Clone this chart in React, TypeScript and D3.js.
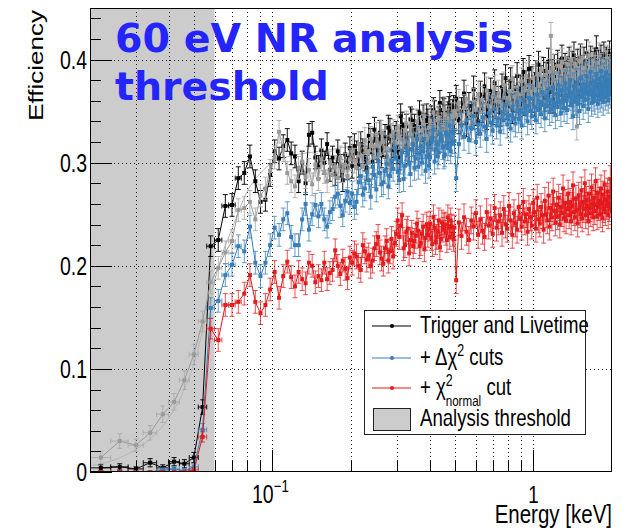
import React from 'react';
import * as d3 from 'd3';

// ---------- binning (keV) ----------
const binWidthKeV = 0.004;
const segA = { start: 0.022, step: 0.004 }; // every bin, 0.022 - 0.198
const segB = { start: 0.202, step: 0.004 }; // every bin, 0.202 - 0.498
const segC = { start: 0.506, step: 0.012 }; // every 3rd bin, 0.506 - 1.994

// ---------- efficiencies (x 1/1000) ----------
const blackA = [4,5,3,9,4,10,8,14,63,219, 225,258,259,285,290,306,282,262,264,288, 311,304,316,322,309,306,282,300,280,327, 329,305,296,312,300,318,293,305,289,311, 297,283,308,295,314];
const blackB = [297,316,309,298,318,311,304,295,326,321, 301,332,315,312,329,307,318,325,306,334, 331,312,317,324,328,311,305,345,337,323, 326,335,318,313,342,340,330,335,321,325, 339,348,327,322,344,336,331,345,340,319, 326,343,337,351,348,333,329,338,342,358, 336,332,351,350,344,329,338,347,352,356, 333,341,349,353,343];
const blackC = [362,341,350,367,338,355,346,371,349,340, 366,352,374,345,358,369,350,377,356,361, 348,373,360,382,355,366,379,351,370,362, 384,357,372,365,388,359,376,368,391,362, 380,371,358,386,374,395,366,381,370,389, 363,384,376,398,369,380,387,361,392,375, 383,396,370,388,377,401,366,385,393,374, 390,379,399,368,387,395,381,404,372,389, 378,397,385,370,402,383,391,376,399,387, 381,406,374,393,386,378,400,389,371,395, 384,398,377,410,388,380,396,373,392,401, 383,394,375,404,389,379,399,386,372,397, 388,405,381,394,385];

const grayA = [14,30,26,38,56,68,89,114,146,184, 198,213,224,254,256,262,245,268,275,292, 305,330,312,290,282,277,295,301,286,293, 279,298,284,303,291,282,300,288,296,285, 305,292,298,287,303];
const grayB = [311,302,295,318,306,296,322,310,300,323, 316,305,327,317,308,329,320,311,314,303, 298,326,330,315,319,334,325,309,312,321, 331,338,309,318,336,327,322,312,317,340, 333,324,315,331,338,345,326,320,312,334, 341,327,323,349,335,330,318,341,344,322, 330,336,326,352,347,333,335,340,343,328, 331,346,338,339,350];
const grayC = [345,358,339,353,362,347,336,359,351,366, 349,361,343,370,355,348,364,372,352,367, 359,345,375,363,351,369,358,381,364,356, 373,366,352,379,361,370,384,358,375,369, 363,382,371,357,386,374,365,390,372,379, 368,385,376,361,388,423,373,392,380,366, 387,375,394,369,381,398,377,363,390,384, 372,395,386,378,400,367,389,382,396,374, 335,391,380,398,373,387,402,379,392,369, 388,396,375,384,404,381,370,393,386,399, 377,391,384,368,397,388,380,403,374,393, 386,378,399,383,371,395,389,376,401,385, 379,392,384,398,387];

const blueA = [0,0,0,0,2,3,1,5,41,159, 166,191,201,219,214,238,203,190,203,220, 237,230,245,251,228,220,220,245,260,235, 250,259,248,260,245,238,252,255,267,270, 258,249,263,272,261];
const blueB = [270,257,262,281,287,269,275,291,283,267, 296,288,274,302,290,279,281,292,299,277, 287,302,294,314,305,291,283,301,310,284, 297,314,309,300,289,313,318,295,304,323, 296,309,316,300,311,323,292,306,318,297, 305,320,324,332,301,313,319,306,310,328, 325,322,315,306,308,329,327,314,319,336, 311,318,330,329,321];
const blueC = [285,318,336,325,341,322,333,345,320,337, 328,344,335,323,348,339,331,352,336,343, 330,349,341,356,337,346,333,354,343,338, 359,342,351,336,361,348,355,340,363,350, 345,362,354,341,366,351,359,347,368,356, 343,365,355,371,349,361,352,373,358,346, 367,354,375,359,348,370,362,353,377,360, 351,372,364,380,356,368,345,374,363,359, 378,357,369,350,382,364,372,355,376,367, 361,384,369,352,375,366,388,358,371,363, 379,360,374,386,365,357,381,370,362,389, 366,376,359,383,371,364,387,368,377,361, 380,369,385,366,375];

const redA = [0,0,0,0,0,0,0,2,34,139, 128,162,162,165,173,191,165,154,162,177, 194,169,190,204,189,180,194,187,183,203, 200,184,190,186,203,187,193,196,215,200, 192,205,197,188,208];
const redB = [203,212,209,200,196,220,214,206,210,200, 205,217,221,228,213,207,202,217,224,205, 214,226,209,222,231,244,228,239,249,217, 220,233,236,212,225,232,219,224,229,241, 234,219,222,231,238,216,227,240,230,236, 241,227,221,247,237,223,228,233,244,218, 226,242,235,239,240,232,225,247,238,228, 244,238,231,226,237];
const redC = [186,242,229,247,233,225,244,238,251,230, 245,234,228,252,239,246,231,256,237,243, 249,232,255,240,236,258,244,230,251,241, 235,257,246,238,262,243,250,233,255,247, 239,261,252,236,266,245,241,257,249,235, 263,250,244,268,238,256,247,272,253,242, 259,248,266,240,257,251,275,246,261,244, 255,270,249,262,243,258,278,252,247,265, 254,241,268,257,250,273,246,262,255,280, 249,264,258,243,270,256,251,276,260,247, 266,253,282,259,248,271,257,263,250,275, 261,246,269,255,279,252,264,258,272,249, 267,256,284,260,253];

// ---------- uncertainties (x 1/1000): first 10 bins, then per segment ----------
const blackErrLow = [3,3,2,4,3,4,4,5,7,10];
const grayErrLow = [6,7,6,7,8,8,9,10,10,11];
const blueErrLow = [1,1,1,1,2,2,2,3,6,10];
const redErrLow = [1,1,1,1,1,1,1,2,5,10];
const errBySegment = [11, 12, 13]; // A (above threshold), B, C

// ---------- smooth efficiency fit (keV, efficiency) ----------
const fitE = [0.02,0.025,0.03,0.035,0.04,0.045,0.05,0.055,0.06,0.065,0.07,0.08,0.09,0.1,0.12,0.15,0.2,0.3,0.5,1,2];
const fitV = [0.006,0.012,0.022,0.035,0.052,0.075,0.105,0.145,0.185,0.215,0.236,0.272,0.29,0.3,0.307,0.311,0.316,0.327,0.345,0.37,0.385];

// ---------- axes ----------
const xMajorTicks = [0.1, 1];
const xMinorTicks = [0.03,0.04,0.05,0.06,0.07,0.08,0.09,0.2,0.3,0.4,0.5,0.6,0.7,0.8,0.9];
const yMajorTicks = [0, 0.1, 0.2, 0.3, 0.4];
const yMinorTicks = [0.02,0.04,0.06,0.08,0.12,0.14,0.16,0.18,0.22,0.24,0.26,0.28,0.32,0.34,0.36,0.38,0.42,0.44];
const thresholdKeV = [0.02, 0.06];

const W = 630, H = 530;
const L = 90, R = 612, T = 8, B = 472;
const x = d3.scaleLog().domain([0.02, 2]).range([L, R]);
const y = d3.scaleLinear().domain([0, 0.45]).range([B, T]);

type Pt = { e: number; v: number; err: number };

function buildSeries(a: number[], b: number[], c: number[], errLow: number[]): Pt[] {
  const out: Pt[] = [];
  a.forEach((v, i) => out.push({ e: segA.start + segA.step * i, v: v / 1000, err: (i < errLow.length ? errLow[i] : errBySegment[0]) / 1000 }));
  b.forEach((v, i) => out.push({ e: segB.start + segB.step * i, v: v / 1000, err: errBySegment[1] / 1000 }));
  c.forEach((v, i) => out.push({ e: segC.start + segC.step * i, v: v / 1000, err: errBySegment[2] / 1000 }));
  return out;
}

const black = buildSeries(blackA, blackB, blackC, blackErrLow);
const gray = buildSeries(grayA, grayB, grayC, grayErrLow);
const blue = buildSeries(blueA, blueB, blueC, blueErrLow);
const red = buildSeries(redA, redB, redC, redErrLow);

const FONT = '"Liberation Sans", Arial, Helvetica, sans-serif';

function Series({ pts, color, barColor, barOpacity }: { pts: Pt[]; color: string; barColor: string; barOpacity: number }) {
  const line = d3.line<Pt>().x(d => x(d.e)).y(d => y(d.v));
  const cap = 2.5;
  return (
    <g>
      <path d={line(pts) || ''} fill="none" stroke={color} strokeWidth={1} />
      <g stroke={barColor} strokeOpacity={barOpacity} strokeWidth={1}>
        {pts.map((p, i) => {
          const cx = x(p.e), cy = y(p.v);
          const y0 = y(p.v - p.err), y1 = y(p.v + p.err);
          const x0 = x(p.e - binWidthKeV / 2), x1 = x(p.e + binWidthKeV / 2);
          const wide = x1 - x0 > 6;
          return (
            <g key={i}>
              <line x1={cx} x2={cx} y1={y0} y2={y1} />
              <line x1={cx - cap} x2={cx + cap} y1={y0} y2={y0} />
              <line x1={cx - cap} x2={cx + cap} y1={y1} y2={y1} />
              {wide && <line x1={x0} x2={x1} y1={cy} y2={cy} />}
              {wide && <line x1={x0} x2={x0} y1={cy - cap} y2={cy + cap} />}
              {wide && <line x1={x1} x2={x1} y1={cy - cap} y2={cy + cap} />}
            </g>
          );
        })}
      </g>
      <g fill={color}>
        {pts.map((p, i) => (
          <rect key={i} x={x(p.e) - 2} y={y(p.v) - 2} width={4} height={4} />
        ))}
      </g>
    </g>
  );
}

export default function App() {
  const fitPts = fitE.map((e, i) => [e, fitV[i]] as [number, number]);
  const fitLine = d3.line<[number, number]>().x(d => x(d[0])).y(d => y(d[1])).curve(d3.curveMonotoneX);
  const legendRows = [
    { color: '#000000', y: 326 },
    { color: '#377eb8', y: 358 },
    { color: '#e41a1c', y: 388 },
  ];
  return (
    <svg width={W} height={H} style={{ position: 'absolute', left: 0, top: 0, background: '#fff' }} fontFamily={FONT}>
      <defs>
        <clipPath id="plotclip">
          <rect x={L} y={T} width={R - L} height={B - T} />
        </clipPath>
      </defs>
      <rect x={0} y={0} width={W} height={H} fill="#fff" />
      {/* analysis threshold band */}
      <rect x={x(thresholdKeV[0])} y={T} width={x(thresholdKeV[1]) - x(thresholdKeV[0])} height={B - T} fill="#cccccc" />
      {/* grid */}
      <g stroke="#000" strokeWidth={1} strokeDasharray="1,3" opacity={0.85}>
        {[...xMinorTicks, ...xMajorTicks].map((t, i) => (
          <line key={'gx' + i} x1={Math.round(x(t)) + 0.5} x2={Math.round(x(t)) + 0.5} y1={T} y2={B} />
        ))}
        {yMajorTicks.filter(t => t > 0).map((t, i) => (
          <line key={'gy' + i} x1={L} x2={R} y1={Math.round(y(t)) + 0.5} y2={Math.round(y(t)) + 0.5} />
        ))}
      </g>
      <g clipPath="url(#plotclip)">
        <path d={fitLine(fitPts) || ''} fill="none" stroke="#b5b5b5" strokeWidth={1} />
        <Series pts={black} color="#000000" barColor="#000000" barOpacity={0.95} />
        <Series pts={gray} color="#9a9a9a" barColor="#a8a8a8" barOpacity={0.85} />
        <Series pts={blue} color="#377eb8" barColor="#377eb8" barOpacity={0.75} />
        <Series pts={red} color="#e41a1c" barColor="#e41a1c" barOpacity={0.75} />
      </g>
      {/* frame */}
      <rect x={L + 0.5} y={T + 0.5} width={R - L - 1} height={B - T - 1} fill="none" stroke="#000" strokeWidth={1} />
      {/* ticks */}
      <g stroke="#000" strokeWidth={1}>
        {xMajorTicks.map((t, i) => (
          <line key={'xM' + i} x1={Math.round(x(t)) + 0.5} x2={Math.round(x(t)) + 0.5} y1={B} y2={B - 22} />
        ))}
        {xMinorTicks.map((t, i) => (
          <line key={'xm' + i} x1={Math.round(x(t)) + 0.5} x2={Math.round(x(t)) + 0.5} y1={B} y2={B - 11} />
        ))}
        {yMajorTicks.map((t, i) => (
          <line key={'yM' + i} x1={L} x2={L + 22} y1={Math.round(y(t)) + 0.5} y2={Math.round(y(t)) + 0.5} />
        ))}
        {yMinorTicks.map((t, i) => (
          <line key={'ym' + i} x1={L} x2={L + 11} y1={Math.round(y(t)) + 0.5} y2={Math.round(y(t)) + 0.5} />
        ))}
      </g>
      {/* y tick labels */}
      {yMajorTicks.map((t, i) => (
        <g key={'yl' + i} transform={`translate(${L - 3},${y(t) + 9}) scale(0.78,1)`}>
          <text textAnchor="end" fontSize={25} fill="#000">{t === 0 ? '0' : d3.format('.1f')(t)}</text>
        </g>
      ))}
      {/* x tick labels */}
      <g transform={`translate(${x(0.1) - 2},503) scale(0.78,1)`}>
        <text textAnchor="middle" fontSize={25} fill="#000">10<tspan fontSize={17} dy={-11}>−1</tspan></text>
      </g>
      <g transform={`translate(${x(1)},503) scale(0.78,1)`}>
        <text textAnchor="middle" fontSize={24} fill="#000">1</text>
      </g>
      {/* axis titles */}
      <g transform={`translate(${R},523) scale(0.82,1)`}>
        <text textAnchor="end" fontSize={25} fill="#000">Energy [keV]</text>
      </g>
      <g transform={`translate(43,10) scale(0.78,1) rotate(-90)`}>
        <text textAnchor="end" fontSize={26} fill="#000">Efficiency</text>
      </g>
      {/* headline */}
      <g fontFamily='"DejaVu Sans", Verdana, sans-serif' fontWeight="bold" fontSize={39.5} fill="#2424ff">
        <text x={115} y={51.5}>60 eV NR analysis</text>
        <text x={115} y={100}>threshold</text>
      </g>
      {/* legend */}
      <rect x={364.5} y={310.5} width={221} height={124} fill="#fff" stroke="#222" strokeWidth={1} />
      {legendRows.map((r, i) => (
        <g key={'lg' + i}>
          <line x1={372} x2={411} y1={r.y} y2={r.y} stroke={r.color} strokeWidth={1.2} />
          <circle cx={392} cy={r.y} r={2} fill={r.color} />
        </g>
      ))}
      <rect x={373.5} y={408.5} width={37} height={22} fill="#cccccc" stroke="#222" strokeWidth={1} />
      <g fontSize={24} fill="#000">
        <g transform="translate(420,333) scale(0.775,1)">
          <text>Trigger and Livetime</text>
        </g>
        <g transform="translate(420,365) scale(0.775,1)">
          <text>+ Δχ<tspan fontSize={16} dy={-9}>2</tspan><tspan dy={9}> cuts</tspan></text>
        </g>
        <g transform="translate(420,395) scale(0.775,1)">
          <text>+ χ<tspan fontSize={16} dy={-9}>2</tspan><tspan fontSize={15} dx={-9} dy={20}>normal</tspan><tspan dy={-11}> cut</tspan></text>
        </g>
        <g transform="translate(420,426) scale(0.775,1)">
          <text>Analysis threshold</text>
        </g>
      </g>
    </svg>
  );
}
